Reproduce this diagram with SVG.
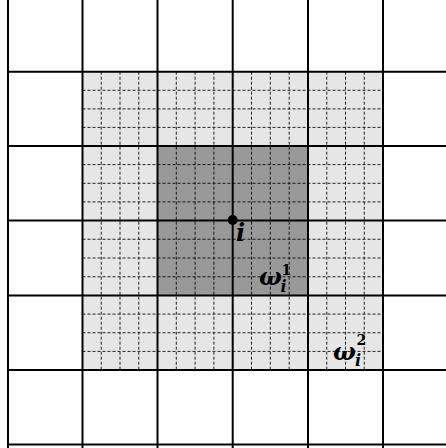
<svg xmlns="http://www.w3.org/2000/svg" width="446" height="448" viewBox="0 0 446 448">
<style>
.coarse{stroke:#000;stroke-width:2;fill:none}
.fine{stroke:#000;stroke-width:1;stroke-dasharray:3 2;fill:none;opacity:0.85}
.lbl{font-family:"DejaVu Serif","Liberation Serif",serif;font-style:italic;font-weight:bold;fill:#000}
.num{font-family:"DejaVu Serif","Liberation Serif",serif;font-weight:bold;fill:#000}
</style>
<rect x="0" y="0" width="446" height="448" fill="#fff"/>
<g id="regions">
<rect id="omega2" x="82.5" y="71.7" width="300.5" height="298.3" fill="#e6e6e6"/>
<rect id="omega1" x="157.5" y="146" width="150.5" height="149.5" fill="#999"/>
</g>
<g id="fine-grid" class="fine">
<path d="M101.25 71.7V370M120 71.7V370M138.75 71.7V370M176.3 71.7V370M195.1 71.7V370M213.9 71.7V370M251.5 71.7V370M270.3 71.7V370M289.2 71.7V370M326.75 71.7V370M345.5 71.7V370M364.25 71.7V370"/>
<path d="M82.5 90.3H383M82.5 108.9H383M82.5 127.4H383M82.5 164.6H383M82.5 183.3H383M82.5 201.9H383M82.5 239.25H383M82.5 258H383M82.5 276.75H383M82.5 314.1H383M82.5 332.75H383M82.5 351.4H383"/>
</g>
<g id="coarse-grid" class="coarse">
<path d="M8 0V448M82.5 0V448M157.5 0V448M232.7 0V448M308 0V448M383 0V448"/>
<path d="M8 71.7H446M8 146H446M8 220.5H446M8 295.5H446M8 370H446M8 444.5H446"/>
</g>
<g id="node-i">
<circle cx="232.7" cy="220" r="5" fill="#000"/>
<text class="lbl" x="236" y="241" font-size="24">i</text>
</g>
<g id="label-omega1">
<text class="lbl" x="259" y="285" font-size="24">ω</text>
<text class="num" x="281.5" y="275" font-size="14">1</text>
<text class="lbl" x="280.5" y="292" font-size="16">i</text>
</g>
<g id="label-omega2">
<text class="lbl" x="333" y="360" font-size="24">ω</text>
<text class="num" x="356.5" y="345" font-size="14">2</text>
<text class="lbl" x="355" y="366" font-size="16">i</text>
</g>
</svg>
